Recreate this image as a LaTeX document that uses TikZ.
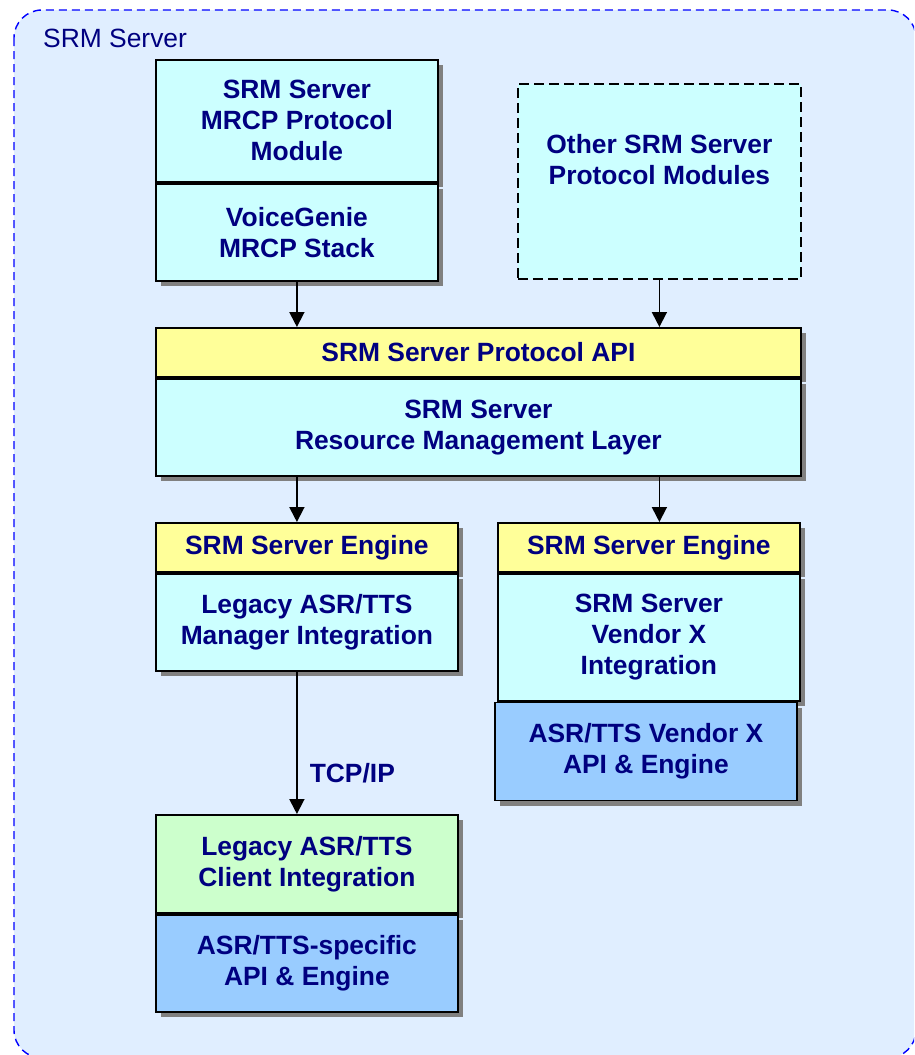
\documentclass[tikz,border=0pt]{standalone}
\usepackage{fontspec}
\setmainfont{Liberation Sans}
\usepackage{xcolor}
\usepackage{tikz}
\usetikzlibrary{arrows.meta,shadows}
\definecolor{navy}{HTML}{000080}
\definecolor{bgblue}{HTML}{E0EEFF}
\definecolor{cyanfill}{HTML}{CCFFFF}
\definecolor{yellowfill}{HTML}{FFFF99}
\definecolor{greenfill}{HTML}{CCFFCC}
\definecolor{bluefill}{HTML}{99CCFF}
\definecolor{shadowgray}{HTML}{808080}
\newcommand{\boxfont}{\bfseries\fontsize{26.4}{31}\selectfont}
\newcommand{\labelfont}{\fontsize{26.4}{31}\selectfont}

\begin{document}
\begin{tikzpicture}[x=1pt, y=-1pt,
    txt/.style={text=navy, font=\boxfont, align=center, inner sep=0pt},
    sect/.style={txt, draw, line width=1.8pt, anchor=north west,
        general shadow={fill=shadowgray, shadow xshift=5pt, shadow yshift=-5pt}},
    cyanbox/.style={sect, fill=cyanfill},
    yellowbox/.style={sect, fill=yellowfill},
    greenbox/.style={sect, fill=greenfill},
    bluebox/.style={sect, fill=bluefill},
    otherbox/.style={draw, line width=1.8pt, dash pattern=on 10pt off 5pt,
        fill=cyanfill, anchor=north west, inner sep=0pt},
    flow/.style={-{Triangle[length=15pt, width=15pt]}, line width=1.8pt}]
    \useasboundingbox (0,0) rectangle (914,1055);

    % SRM Server container
    \begin{scope}
        \clip (0,0) rectangle (914,1055);
        \draw[blue, line width=1.4pt, dash pattern=on 8pt off 5pt, fill=bgblue,
            rounded corners=28pt] (14,10) rectangle (916,1058);
    \end{scope}
    \node[anchor=base west, text=navy, font=\labelfont, inner sep=0pt] (srmlabel) at (43,47) {SRM Server};

    % Protocol modules
    \node[cyanbox, minimum width=282pt, minimum height=122pt] (mrcp) at (155,59) {SRM Server\\MRCP Protocol\\Module};
    \node[cyanbox, minimum width=282pt, minimum height=97pt] (stack) at (mrcp.south west) {VoiceGenie\\MRCP Stack};
    \node[otherbox, minimum width=283pt, minimum height=195pt] (other) at (517,83) {};
    \node[txt] (othertxt) at ([yshift=22pt]other.center) {Other SRM Server\\Protocol Modules};

    % Protocol API / resource management
    \node[yellowbox, minimum width=645pt, minimum height=49pt] (api) at (155,327) {SRM Server Protocol API};
    \node[cyanbox, minimum width=645pt, minimum height=97pt] (rml) at (api.south west) {SRM Server\\Resource Management Layer};

    % Legacy engine
    \node[yellowbox, minimum width=302pt, minimum height=49pt] (legeng) at (155,522) {SRM Server Engine};
    \node[cyanbox, minimum width=302pt, minimum height=97pt] (legmgr) at (legeng.south west) {Legacy ASR/TTS\\Manager Integration};

    % Vendor X engine
    \node[yellowbox, minimum width=302pt, minimum height=49pt] (vxeng) at (497,522) {SRM Server Engine};
    \node[cyanbox, minimum width=302pt, minimum height=127pt] (vxint) at (vxeng.south west) {SRM Server\\Vendor X\\Integration};
    \node[bluebox, minimum width=302pt, minimum height=98pt] (vxapi) at ([xshift=-3pt]vxint.south west) {ASR/TTS Vendor X\\API \& Engine};

    % Legacy client
    \node[greenbox, minimum width=302pt, minimum height=98pt] (legcli) at (155,814) {Legacy ASR/TTS\\Client Integration};
    \node[bluebox, minimum width=302pt, minimum height=97pt] (legapi) at (legcli.south west) {ASR/TTS-specific\\API \& Engine};

    % Arrows
    \draw[flow] (stack.south) -- (stack.south |- api.north);
    \draw[flow] (other.south) -- (other.south |- api.north);
    \draw[flow] (stack.south |- rml.south) -- (stack.south |- legeng.north);
    \draw[flow] (other.south |- rml.south) -- (other.south |- vxeng.north);
    \draw[flow] (stack.south |- legmgr.south) -- node[txt, pos=0.71, anchor=west, xshift=12pt] (tcpip) {TCP/IP} (stack.south |- legcli.north);
\end{tikzpicture}
\end{document}
